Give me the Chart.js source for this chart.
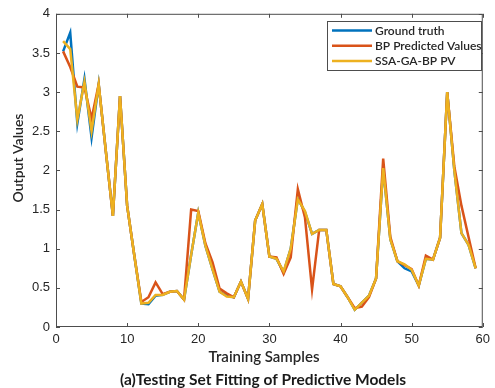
<!DOCTYPE html>
<html>
<head>
<meta charset="utf-8">
<script src="https://cdn.jsdelivr.net/npm/chart.js@4.4.0/dist/chart.umd.min.js"></script>
<style>
  body { margin: 0; background: #fff; }
</style>
</head>
<body>
<canvas id="myChart" width="495" height="388"></canvas>
<script>
// data
var samples = [1, 2, 3, 4, 5, 6, 7, 8, 9, 10, 11, 12, 13, 14, 15, 16, 17, 18, 19, 20,
    21, 22, 23, 24, 25, 26, 27, 28, 29, 30, 31, 32, 33, 34, 35, 36, 37, 38, 39, 40,
    41, 42, 43, 44, 45, 46, 47, 48, 49, 50, 51, 52, 53, 54, 55, 56, 57, 58, 59];
var groundTruth = [3.52, 3.76, 2.60, 3.17, 2.42, 3.10, 2.25, 1.42, 2.95, 1.55,
    0.92, 0.30, 0.29, 0.40, 0.41, 0.45, 0.46, 0.35, 0.92, 1.46,
    1.04, 0.74, 0.45, 0.40, 0.38, 0.58, 0.36, 1.36, 1.57, 0.90,
    0.87, 0.70, 1.00, 1.64, 1.47, 1.19, 1.24, 1.24, 0.55, 0.52,
    0.38, 0.22, 0.31, 0.40, 0.62, 2.03, 1.12, 0.84, 0.75, 0.71,
    0.53, 0.87, 0.86, 1.14, 3.00, 2.00, 1.20, 1.05, 0.75];
var bpPredicted = [3.52, 3.32, 3.07, 3.06, 2.66, 3.10, 2.25, 1.42, 2.95, 1.55,
    0.92, 0.32, 0.38, 0.57, 0.42, 0.45, 0.46, 0.35, 1.50, 1.48,
    1.07, 0.83, 0.49, 0.43, 0.38, 0.58, 0.36, 1.36, 1.57, 0.90,
    0.89, 0.68, 0.89, 1.76, 1.40, 0.48, 1.24, 1.24, 0.55, 0.52,
    0.38, 0.24, 0.26, 0.38, 0.62, 2.15, 1.15, 0.84, 0.79, 0.74,
    0.53, 0.91, 0.86, 1.14, 3.00, 2.05, 1.55, 1.15, 0.75];
var ssaGaBp = [3.65, 3.55, 2.65, 3.13, 2.50, 3.10, 2.25, 1.42, 2.95, 1.55,
    0.92, 0.30, 0.31, 0.41, 0.41, 0.45, 0.46, 0.35, 0.92, 1.46,
    1.04, 0.74, 0.45, 0.39, 0.38, 0.58, 0.36, 1.36, 1.57, 0.90,
    0.87, 0.71, 1.00, 1.63, 1.48, 1.19, 1.24, 1.24, 0.55, 0.52,
    0.38, 0.22, 0.31, 0.40, 0.62, 2.03, 1.12, 0.84, 0.80, 0.73,
    0.53, 0.87, 0.86, 1.14, 3.00, 2.00, 1.20, 1.05, 0.75];
var xTicks = [0, 10, 20, 30, 40, 50, 60];
var yTicks = [0, 0.5, 1, 1.5, 2, 2.5, 3, 3.5, 4];

function points(values) {
    return samples.map(function (s, i) { return {x: s, y: values[i]}; });
}

var textColor = '#262626';
var axisColor = '#4d4d4d';

// box round the plot with inward ticks on all four sides
var framePlugin = {
    id: 'frame',
    afterDatasetsDraw: function (chart) {
        var ctx = chart.ctx, a = chart.chartArea;
        var x = chart.scales.x, y = chart.scales.y;
        ctx.save();
        ctx.strokeStyle = axisColor;
        ctx.lineWidth = 1;
        ctx.strokeRect(a.left + 0.5, a.top + 0.5, a.right - a.left - 1, a.bottom - a.top - 1);
        ctx.beginPath();
        x.ticks.forEach(function (t) {
            var px = Math.round(x.getPixelForValue(t.value)) + 0.5;
            ctx.moveTo(px, a.bottom); ctx.lineTo(px, a.bottom - 4);
            ctx.moveTo(px, a.top); ctx.lineTo(px, a.top + 4);
        });
        y.ticks.forEach(function (t) {
            var py = Math.round(y.getPixelForValue(t.value)) + 0.5;
            ctx.moveTo(a.left, py); ctx.lineTo(a.left + 4, py);
            ctx.moveTo(a.right, py); ctx.lineTo(a.right - 4, py);
        });
        ctx.stroke();
        ctx.restore();
    }
};

// legend box in the upper right corner
var legendPlugin = {
    id: 'boxLegend',
    afterDraw: function (chart) {
        var ctx = chart.ctx;
        var bx = 327.5, by = 21.5, bw = 154, bh = 49;
        ctx.save();
        ctx.fillStyle = '#fff';
        ctx.fillRect(bx, by, bw, bh);
        ctx.strokeStyle = axisColor;
        ctx.lineWidth = 1;
        ctx.strokeRect(bx, by, bw, bh);
        ctx.font = '600 12px Lato';
        ctx.textBaseline = 'middle';
        chart.data.datasets.forEach(function (ds, i) {
            var ry = 30.5 + i * 15.3;
            ctx.strokeStyle = ds.borderColor;
            ctx.lineWidth = 2.5;
            ctx.beginPath();
            ctx.moveTo(332, ry);
            ctx.lineTo(372, ry);
            ctx.stroke();
            ctx.fillStyle = textColor;
            ctx.fillText(ds.label, 375, ry + 0.5);
        });
        ctx.restore();
    }
};

// axis titles and caption
var captionPlugin = {
    id: 'captions',
    afterDraw: function (chart) {
        var ctx = chart.ctx;
        ctx.save();
        ctx.fillStyle = textColor;
        ctx.textAlign = 'center';
        ctx.textBaseline = 'middle';
        ctx.font = '600 14px Lato';
        ctx.translate(18.5, 158);
        ctx.rotate(-Math.PI / 2);
        ctx.fillText('Output Values', 0, 0);
        ctx.setTransform(1, 0, 0, 1, 0, 0);
        ctx.font = '600 15px Lato';
        ctx.fillText('Training Samples', 264, 357);
        ctx.fillStyle = '#1a1a1a';
        ctx.font = 'bold 15.5px Lato';
        ctx.fillText('(a)Testing Set Fitting of Predictive Models', 263, 380);
        ctx.restore();
    }
};

function plainTick(value) {
    return String(value);
}

var ctx = document.getElementById('myChart').getContext('2d');
var myChart = new Chart(ctx, {
    type: 'line',
    data: {
        datasets: [{
            label: 'Ground truth',
            data: points(groundTruth),
            borderColor: '#0072BD',
            order: 3
        }, {
            label: 'BP Predicted Values',
            data: points(bpPredicted),
            borderColor: '#D95319',
            order: 2
        }, {
            label: 'SSA-GA-BP PV',
            data: points(ssaGaBp),
            borderColor: '#EDB120',
            order: 1
        }]
    },
    options: {
        responsive: false,
        animation: false,
        devicePixelRatio: 1,
        layout: {padding: {left: 0, right: 4, top: 13, bottom: 0}},
        elements: {
            line: {borderWidth: 2.5, tension: 0, fill: false},
            point: {radius: 0, hoverRadius: 0}
        },
        scales: {
            x: {
                type: 'linear',
                min: 0,
                max: 60,
                afterBuildTicks: function (s) { s.ticks = xTicks.map(function (v) { return {value: v}; }); },
                afterFit: function (s) { s.height = 61; },
                grid: {display: false, drawTicks: false},
                border: {display: false},
                ticks: {
                    color: textColor,
                    padding: 5,
                    maxRotation: 0,
                    callback: plainTick,
                    font: {family: 'Liberation Sans', size: 13}
                }
            },
            y: {
                min: 0,
                max: 4,
                afterBuildTicks: function (s) { s.ticks = yTicks.map(function (v) { return {value: v}; }); },
                afterFit: function (s) { s.width = 56; },
                grid: {display: false, drawTicks: false},
                border: {display: false},
                ticks: {
                    color: textColor,
                    padding: 6,
                    callback: plainTick,
                    font: {family: 'Liberation Sans', size: 13}
                }
            }
        },
        plugins: {
            legend: {display: false},
            tooltip: {enabled: false},
            title: {display: false}
        }
    },
    plugins: [framePlugin, legendPlugin, captionPlugin]
});
</script>
</body>
</html>
